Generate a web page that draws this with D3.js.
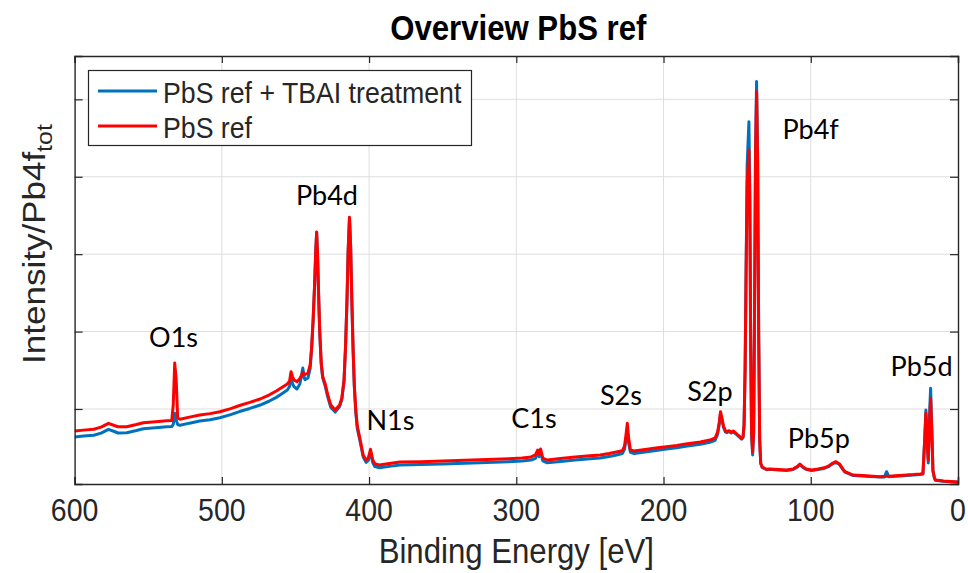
<!DOCTYPE html>
<html>
<head>
<meta charset="utf-8">
<script src="https://cdn.jsdelivr.net/npm/d3@7"></script>
<style>
  html, body { margin: 0; padding: 0; background: #fff; }
  svg { display: block; }
</style>
</head>
<body>
<svg id="chart" width="968" height="573"></svg>
<script>
// Binding energies (eV) shared by both survey spectra, high to low
const bindingEnergy = [
  600, 594, 587, 582, 577, 573, 570.5, 564.6, 558, 553.3, 545, 537.5, 534, 533, 532, 531, 530, 528.4,
  522, 515, 508, 501.3, 494, 488, 481, 474, 468, 463, 459, 455.5, 454, 453, 452, 451, 449, 447, 446,
  445, 444, 443.5, 441.5, 440, 439, 438, 437, 436.2, 435.6, 435, 434.3, 433.5, 432.5, 431.5, 430, 428,
  426, 423, 420, 418.5, 417, 416, 415, 414.2, 413.3, 412.5, 411.7, 410.8, 410, 409, 408, 406, 404, 402,
  400.5, 399, 397.5, 396, 393, 385, 379, 365, 350, 335, 320, 305, 296, 290, 287, 285.5, 284.5, 283.5,
  282, 279, 270, 260, 250, 243, 237, 232, 228, 226.5, 225.5, 224.6, 223.7, 222.5, 220, 215, 210, 204,
  198, 191, 185, 175, 168.5, 165, 163.3, 162.2, 161.3, 160.3, 159.3, 158, 157, 155.5, 154, 152.7, 151,
  149, 147, 146, 145.3, 144.6, 143.9, 143.2, 142, 141.4, 140.8, 140.2, 139.5, 138.8, 138.2, 137.5,
  136.8, 136.1, 135.4, 134.7, 134, 133, 130, 128, 122, 116.4, 112, 109, 107.4, 105.5, 103, 99.4, 95,
  91, 88, 85, 82.9, 80.5, 78, 76.7, 71.2, 65, 60, 53, 50, 48.5, 47, 40, 35, 30, 25.8, 23.8, 22.6, 21.8,
  21, 20.2, 19.4, 18.6, 17.8, 17, 16, 15.3, 10, 5, 0
];

// PbS ref, intensity normalised to total Pb4f
const pbsRef = [
  0.716, 0.727, 0.738, 0.765, 0.815, 0.787, 0.771, 0.771, 0.800, 0.823, 0.836, 0.849, 0.851, 1.052, 1.594, 1.375, 0.884, 0.867,
  0.895, 0.922, 0.940, 0.965, 1.005, 1.045, 1.085, 1.129, 1.180, 1.233, 1.280, 1.323, 1.360, 1.482, 1.420, 1.375, 1.353, 1.395, 1.430,
  1.473, 1.447, 1.447, 1.465, 1.570, 1.800, 2.150, 2.600, 3.050, 3.287, 3.000, 2.500, 2.000, 1.600, 1.420, 1.336, 1.180,
  1.052, 0.987, 1.052, 1.142, 1.375, 1.800, 2.400, 3.054, 3.477, 3.100, 2.400, 1.750, 1.300, 0.980, 0.780, 0.600, 0.406, 0.341,
  0.367, 0.479, 0.341, 0.289, 0.276, 0.300, 0.315, 0.320, 0.328, 0.338, 0.347, 0.358, 0.366, 0.380, 0.406, 0.470, 0.419, 0.483,
  0.367, 0.341, 0.360, 0.380, 0.395, 0.406, 0.425, 0.444, 0.460, 0.520, 0.664, 0.815, 0.625, 0.470, 0.457, 0.470, 0.483, 0.498,
  0.513, 0.530, 0.548, 0.574, 0.599, 0.625, 0.700, 0.820, 0.965, 0.880, 0.780, 0.720, 0.707, 0.720, 0.703, 0.716, 0.690,
  0.655, 0.620, 0.640, 0.800, 1.500, 2.800, 3.900, 4.346, 3.600, 1.800, 0.700, 0.448, 0.700, 2.200, 4.300,
  5.099, 4.200, 2.000, 0.600, 0.300, 0.251, 0.221, 0.225, 0.218, 0.212, 0.225, 0.260, 0.289, 0.255, 0.225, 0.212, 0.225,
  0.240, 0.262, 0.302, 0.319, 0.290, 0.220, 0.190, 0.147, 0.140, 0.134, 0.125, 0.128, 0.130, 0.132, 0.140, 0.147, 0.153, 0.160, 0.165, 0.600, 0.944,
  0.600, 0.341, 0.800, 1.138, 0.700, 0.200, 0.109, 0.083, 0.070, 0.063, 0.057
];

// PbS ref after TBAI treatment
const pbsTbai = [
  0.638, 0.650, 0.660, 0.688, 0.737, 0.709, 0.690, 0.693, 0.722, 0.745, 0.758, 0.771, 0.773, 0.800, 0.944, 0.858, 0.800, 0.789,
  0.817, 0.844, 0.862, 0.887, 0.927, 0.967, 1.007, 1.051, 1.100, 1.150, 1.200, 1.245, 1.290, 1.400, 1.330, 1.290, 1.258, 1.323, 1.420,
  1.530, 1.400, 1.380, 1.401, 1.520, 1.780, 2.140, 2.590, 3.050, 3.280, 2.990, 2.490, 1.980, 1.580, 1.400, 1.310, 1.150,
  1.020, 0.960, 1.030, 1.120, 1.360, 1.790, 2.390, 3.050, 3.470, 3.090, 2.390, 1.730, 1.280, 0.950, 0.750, 0.570, 0.380, 0.310,
  0.335, 0.440, 0.305, 0.255, 0.240, 0.262, 0.277, 0.283, 0.290, 0.300, 0.310, 0.320, 0.328, 0.340, 0.362, 0.430, 0.385, 0.440,
  0.330, 0.305, 0.322, 0.342, 0.358, 0.368, 0.385, 0.405, 0.425, 0.480, 0.600, 0.720, 0.560, 0.440, 0.425, 0.438, 0.452, 0.468,
  0.482, 0.500, 0.518, 0.545, 0.570, 0.595, 0.670, 0.800, 0.940, 0.860, 0.765, 0.705, 0.695, 0.710, 0.690, 0.705, 0.680,
  0.645, 0.610, 0.630, 0.790, 1.500, 2.850, 4.150, 4.712, 3.800, 1.850, 0.650, 0.406, 0.680, 2.250, 4.400,
  5.229, 4.300, 2.050, 0.600, 0.295, 0.245, 0.215, 0.220, 0.212, 0.206, 0.218, 0.252, 0.280, 0.248, 0.218, 0.205, 0.218,
  0.232, 0.255, 0.295, 0.312, 0.282, 0.213, 0.183, 0.140, 0.133, 0.128, 0.120, 0.122, 0.190, 0.126, 0.134, 0.140, 0.147, 0.155, 0.160, 0.620, 0.987,
  0.600, 0.302, 0.900, 1.267, 0.750, 0.200, 0.105, 0.080, 0.068, 0.061, 0.055
];

const seriesNames = ["PbS ref + TBAI treatment", "PbS ref"];
const xTicks = [600, 500, 400, 300, 200, 100, 0];
const yTicks = [1, 2, 3, 4, 5];

// Core-level labels and the (energy, intensity) spot each one sits at
const peakNames = ["O1s", "Pb4d", "N1s", "C1s", "S2s", "S2p", "Pb4f", "Pb5p", "Pb5d"];
const peakLabelEnergy = [532.8, 428.6, 385.5, 288, 228.9, 168.5, 100.1, 94.5, 24.7];
const peakLabelLevel = [1.80, 3.64, 0.73, 0.755, 1.05, 1.10, 4.49, 0.50, 1.42];

const plot = { left: 74.6, right: 958, top: 56, bottom: 484 };
const colors = ["#0072BD", "#FF0000"];
const axisColor = "#262626";
const squish = 0.89;

const svg = d3.select("#chart");

const x = d3.scaleLinear().domain([600, 0]).range([plot.left, plot.right]);
const y = d3.scaleLinear().domain([0.031, 5.56]).range([plot.bottom, plot.top]);

// grid
const grid = svg.append("g");
grid.selectAll("line.vx").data(xTicks.filter(t => t !== 600 && t !== 0)).join("line")
  .attr("x1", d => x(d)).attr("x2", d => x(d))
  .attr("y1", plot.top).attr("y2", plot.bottom)
  .attr("stroke", "#dedede").attr("stroke-width", 1);
grid.selectAll("line.hy").data(yTicks).join("line")
  .attr("x1", plot.left).attr("x2", plot.right)
  .attr("y1", d => y(d)).attr("y2", d => y(d))
  .attr("stroke", "#dedede").attr("stroke-width", 1);

// spectra
svg.append("defs").append("clipPath").attr("id", "plotClip")
  .append("rect").attr("x", plot.left).attr("y", plot.top)
  .attr("width", plot.right - plot.left).attr("height", plot.bottom - plot.top);

const line = d3.line().x(d => x(d[0])).y(d => y(d[1]));
const series = [
  bindingEnergy.map((e, i) => [e, pbsTbai[i]]),
  bindingEnergy.map((e, i) => [e, pbsRef[i]])
];
svg.append("g").attr("clip-path", "url(#plotClip)")
  .selectAll("path").data(series).join("path")
  .attr("d", line)
  .attr("fill", "none")
  .attr("stroke", (d, i) => colors[i])
  .attr("stroke-width", 3)
  .attr("stroke-linejoin", "round");

// axes box and inward ticks
const axes = svg.append("g");
axes.append("g").attr("transform", `translate(0,${plot.bottom})`)
  .call(d3.axisBottom(x).tickValues(xTicks).tickSize(-7).tickFormat(""));
axes.append("g").attr("transform", `translate(0,${plot.top})`)
  .call(d3.axisTop(x).tickValues(xTicks).tickSize(-7).tickFormat(""));
axes.append("g").attr("transform", `translate(${plot.left},0)`)
  .call(d3.axisLeft(y).tickValues(yTicks).tickSize(-8).tickFormat(""));
axes.append("g").attr("transform", `translate(${plot.right},0)`)
  .call(d3.axisRight(y).tickValues(yTicks).tickSize(-8).tickFormat(""));
axes.selectAll(".domain").attr("stroke", axisColor).attr("stroke-width", 1.4);
axes.selectAll(".tick line").attr("stroke", axisColor).attr("stroke-width", 1.2);

// tick labels
svg.append("g").selectAll("text").data(xTicks).join("text")
  .attr("transform", d => `translate(${x(d)},${521}) scale(${squish},1)`)
  .attr("text-anchor", "middle")
  .attr("font-family", "'Liberation Sans', Arial, sans-serif")
  .attr("font-size", 32)
  .attr("fill", axisColor)
  .text(d => d);

// axis titles
svg.append("text")
  .attr("transform", `translate(${(plot.left + plot.right) / 2},${563}) scale(${squish},1)`)
  .attr("text-anchor", "middle")
  .attr("font-family", "'Liberation Sans', Arial, sans-serif")
  .attr("font-size", 35)
  .attr("fill", axisColor)
  .text("Binding Energy [eV]");

const yl = svg.append("text")
  .attr("transform", `translate(${45},${244}) rotate(-90) scale(1,${squish})`)
  .attr("text-anchor", "middle")
  .attr("font-family", "'Liberation Sans', Arial, sans-serif")
  .attr("font-size", 35)
  .attr("fill", axisColor);
yl.append("tspan").text("Intensity/Pb4f");
yl.append("tspan").attr("font-size", 25).attr("dy", 8).text("tot");

svg.append("text")
  .attr("transform", `translate(${(plot.left + plot.right) / 2 + 2},${40}) scale(${squish},1)`)
  .attr("text-anchor", "middle")
  .attr("font-family", "'Liberation Sans', Arial, sans-serif")
  .attr("font-weight", "bold")
  .attr("font-size", 35)
  .attr("fill", "#000")
  .text("Overview PbS ref");

// peak labels
svg.append("g").selectAll("text").data(peakNames).join("text")
  .attr("x", (d, i) => x(peakLabelEnergy[i]))
  .attr("y", (d, i) => y(peakLabelLevel[i]))
  .attr("text-anchor", "middle")
  .attr("font-family", "Lato, 'Open Sans', sans-serif")
  .attr("font-size", 27)
  .attr("fill", "#000")
  .text(d => d);

// legend
const lg = svg.append("g");
lg.append("rect").attr("x", 88.5).attr("y", 70.5).attr("width", 383).attr("height", 75)
  .attr("fill", "#fff").attr("stroke", axisColor).attr("stroke-width", 1.2);
seriesNames.forEach((name, i) => {
  const cy = 91 + i * 35;
  lg.append("line").attr("x1", 98).attr("x2", 157).attr("y1", cy).attr("y2", cy)
    .attr("stroke", colors[i]).attr("stroke-width", 3);
  lg.append("text")
    .attr("transform", `translate(163,${cy + 12}) scale(${squish},1)`)
    .attr("font-family", "'Liberation Sans', Arial, sans-serif")
    .attr("font-size", 30)
    .attr("fill", axisColor)
    .text(name);
});
</script>
</body>
</html>
